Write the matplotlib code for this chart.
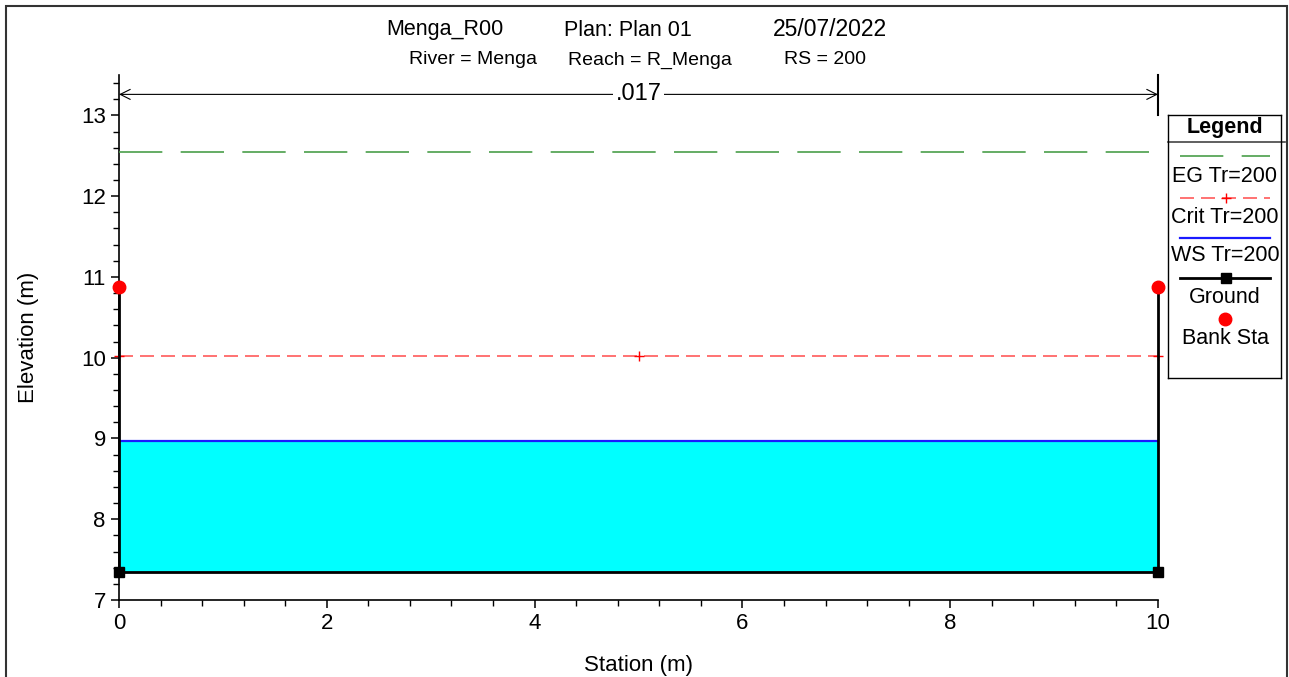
import numpy as np
import matplotlib
matplotlib.use("Agg")
import matplotlib.pyplot as plt
from matplotlib.patches import Rectangle

plt.rcParams['font.family'] = ['Liberation Sans', 'DejaVu Sans']

station = [0, 0, 10, 10]
ground = [10.87, 7.35, 7.35, 10.87]
bank_sta = [0, 10]
bank_elev = [10.87, 10.87]
eg_elev = 12.55
crit_elev = 10.02
ws_elev = 8.97
crit_pts = [0, 5, 10]
n_value = ".017"
n_y = 13.26

fig = plt.figure(figsize=(12.89, 6.77), dpi=100)
ax = fig.add_axes([119 / 1289, 1 - 600 / 677, (1158 - 119) / 1289, (600 - 75) / 677])

# water
ax.fill_between([0, 10], ground[1], ws_elev, color='#00ffff', lw=0, zorder=1)
ax.plot([0, 10], [ws_elev, ws_elev], color='#1a1aff', lw=1.6, zorder=3)
# critical
ax.plot(crit_pts, [crit_elev] * len(crit_pts), color='#ff5a5a', lw=1.2,
        dashes=(8.4, 4.2), marker='+', ms=7, mec='#ff0000', mew=1.0,
        zorder=3, clip_on=False)
# energy grade
ax.plot([0, 10], [eg_elev, eg_elev], color='#4a9e4a', lw=1.2,
        dashes=(26, 11), zorder=3)
# ground
ax.plot(station, ground, color='black', lw=2, zorder=4, clip_on=False)
ax.plot(station[1:3], ground[1:3], ls='none', marker='s', ms=7,
        color='black', zorder=5, clip_on=False)
ax.plot(bank_sta, bank_elev, ls='none', marker='o', ms=9, color='#ff0000',
        zorder=6, clip_on=False)

# manning's n bracket
ax.plot([10, 10], [13.0, 13.5], color='black', lw=1.5, clip_on=False)
ax.annotate('', xy=(0, n_y), xytext=(5, n_y),
            arrowprops=dict(arrowstyle='->', lw=0.8, color='black',
                            shrinkA=0, shrinkB=0, mutation_scale=18))
ax.annotate('', xy=(10, n_y), xytext=(5, n_y),
            arrowprops=dict(arrowstyle='->', lw=0.8, color='black',
                            shrinkA=0, shrinkB=0, mutation_scale=18))
ax.text(5, n_y, n_value, ha='center', va='center', fontsize=17,
        bbox=dict(fc='white', ec='none', pad=1.5), zorder=7)

ax.set_xlim(0, 10)
ax.set_ylim(7, 13.5)
ax.set_xticks(np.arange(0, 11, 2))
ax.set_xticks(np.arange(0, 10.01, 0.4), minor=True)
ax.set_yticks(np.arange(7, 14, 1))
ax.set_yticks(np.arange(7, 13.41, 0.2), minor=True)
for s in ['top', 'right']:
    ax.spines[s].set_visible(False)
for s in ['left', 'bottom']:
    ax.spines[s].set_linewidth(1.2)
ax.tick_params(which='major', direction='out', length=6, width=1.1,
               labelsize=16)
ax.tick_params(which='minor', direction='out', length=4, width=1.0)
ax.set_xlabel('Station (m)', fontsize=16, labelpad=15)
ax.set_ylabel('Elevation (m)', fontsize=16, labelpad=30)

# titles
fig.text(445 / 1289, 1 - 30 / 677, 'Menga_R00', ha='center', va='center', fontsize=15.5)
fig.text(628 / 1289, 1 - 30 / 677, 'Plan: Plan 01', ha='center', va='center', fontsize=15.5)
fig.text(830 / 1289, 1 - 30 / 677, '25/07/2022', ha='center', va='center', fontsize=16.5)
fig.text(473 / 1289, 1 - 60 / 677, 'River = Menga', ha='center', va='center', fontsize=14)
fig.text(650 / 1289, 1 - 60 / 677, 'Reach = R_Menga', ha='center', va='center', fontsize=14)
fig.text(825 / 1289, 1 - 60 / 677, 'RS = 200', ha='center', va='center', fontsize=14)

# legend box
lg = fig.add_axes([1168 / 1289, 1 - 378 / 677, (1281 - 1168) / 1289, (378 - 115) / 677])
lg.set_xlim(1168, 1281)
lg.set_ylim(378, 115)
lg.set_xticks([])
lg.set_yticks([])
for s in lg.spines.values():
    s.set_linewidth(1.0)
lg.text(1225, 128, 'Legend', ha='center', va='center', fontsize=15.5, weight='bold')
lg.plot([1168, 1285], [142, 142], color='#444444', lw=1.2, clip_on=False)
lg.plot([1180, 1270], [156, 156], color='#4a9e4a', lw=1.2, dashes=(26, 11))
lg.text(1225, 177, 'EG Tr=200', ha='center', va='center', fontsize=15.5)
lg.plot([1180, 1270], [198, 198], color='#ff5a5a', lw=1.2, dashes=(8.4, 4.2))
lg.plot([1226], [198], marker='+', ms=7, color='#ff0000', mew=1.0)
lg.text(1225, 218, 'Crit Tr=200', ha='center', va='center', fontsize=15.5)
lg.plot([1180, 1270], [238, 238], color='#1a1aff', lw=1.6)
lg.text(1225, 256, 'WS Tr=200', ha='center', va='center', fontsize=15.5)
lg.plot([1180, 1270], [278, 278], color='black', lw=2)
lg.plot([1226], [278], marker='s', ms=7, color='black')
lg.text(1225, 298, 'Ground', ha='center', va='center', fontsize=15.5)
lg.plot([1225], [319], marker='o', ms=9, color='#ff0000')
lg.text(1225, 339, 'Bank Sta', ha='center', va='center', fontsize=15.5)

# outer frame (bottom edge falls outside the image)
fig.patches.append(Rectangle((6 / 1289, -0.02), 1 - 8 / 1289, 1.02 - 6 / 677,
                             transform=fig.transFigure, fill=False,
                             ec='#333333', lw=1.5))

fig.savefig('out.png', dpi=100)
